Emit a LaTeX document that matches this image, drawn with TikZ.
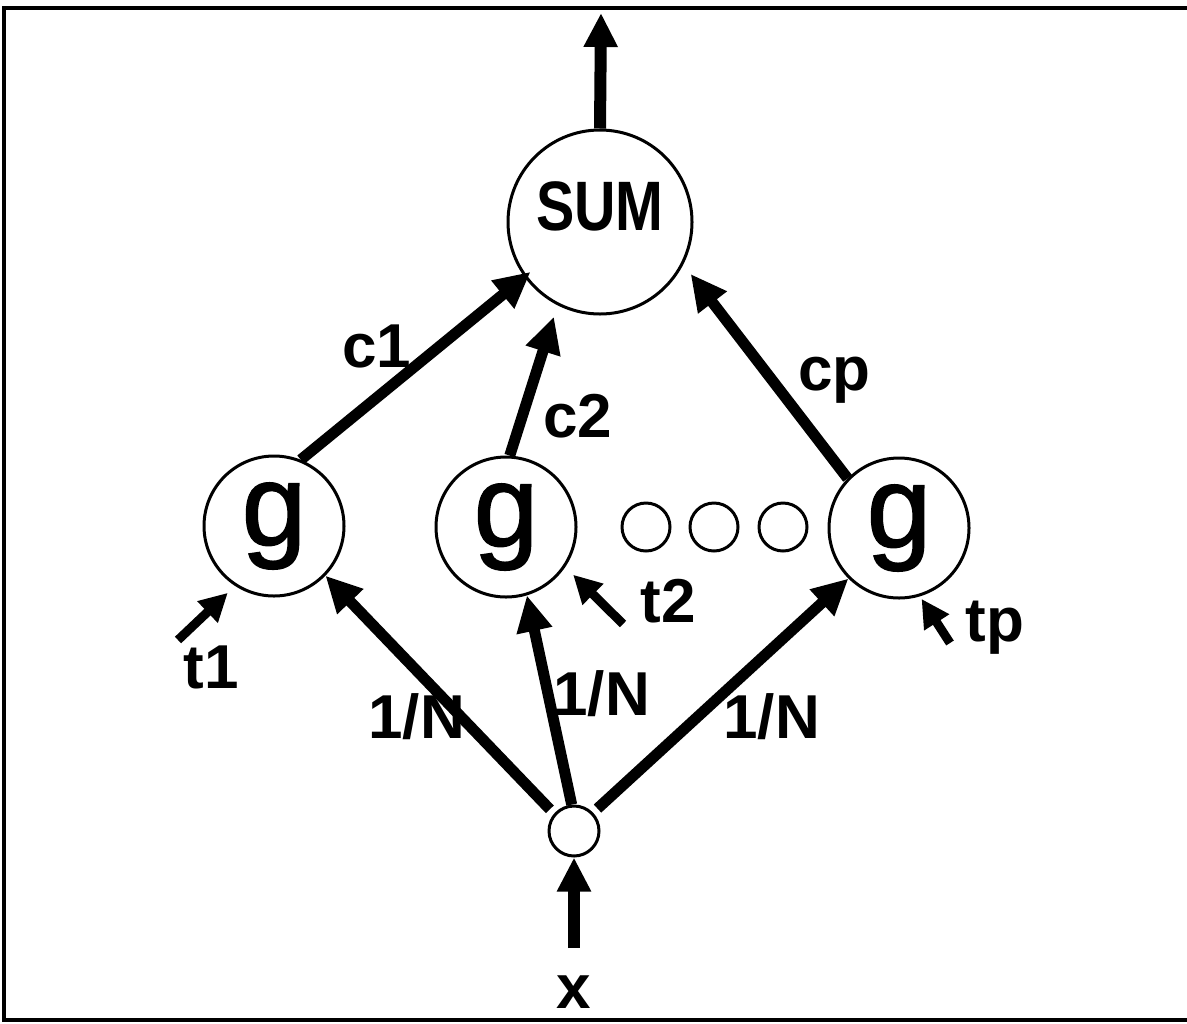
\documentclass[tikz,border=0pt]{standalone}
\usepackage{fontspec}
\usepackage{graphicx}
\setmainfont{Liberation Sans}
\newfontfamily\gfont{Liberation Sans}[FakeBold=1.5]
\usetikzlibrary{arrows.meta}
\begin{document}
\begin{tikzpicture}[x=0.5pt,y=-0.5pt,
  circ/.style={circle,draw,line width=1.5pt,inner sep=0pt},
  gnode/.style={circ,minimum size=70pt,font=\gfont\fontsize{58}{60}\selectfont},
  dotc/.style={circ,minimum size=24pt},
  lab/.style={font=\fontsize{31}{34}\selectfont\bfseries,inner sep=0pt},
  conn/.style={line width=5.5pt,-{Triangle[length=18pt,width=17pt]}},
  bigconn/.style={line width=6pt,-{Triangle[length=17pt,width=16pt]}},
  tconn/.style={line width=4.5pt,-{Triangle[length=14pt,width=14pt]}},
  frame/.style={line width=2pt}]
\useasboundingbox (0,0) rectangle (1187,1023);
% frame (open on the right)
\draw[frame] (1195,8) -- (4,8) -- (4,1020) -- (1195,1020);
% nodes
\node[circ,minimum size=92pt] (sum) at (600,222) {};
\node[lab,font=\fontsize{35}{38}\selectfont\bfseries,anchor=base] (sumlab) at (600,230) {\scalebox{0.82}[1]{SUM}};
\node[gnode] (g1) at (274,526) {g};
\node[gnode] (g2) at (506,527) {g};
\node[gnode] (g3) at (899,528) {g};
\node[dotc] (d1) at (646,527) {};
\node[dotc] (d2) at (714,527) {};
\node[dotc] (d3) at (783,527) {};
\node[circ,minimum size=25pt] (inp) at (574,831) {};
% coordinates for free ends
\coordinate (out) at (601,13);
\coordinate (xin) at (574,948);
\coordinate (t1s) at (178,640);
\coordinate (t2s) at (623,624);
\coordinate (tps) at (950,643);
% labels
\node[lab,anchor=base west] (lc1) at (342,367) {c1};
\node[lab,anchor=base west] (lc2) at (543,437) {c2};
\node[lab,anchor=base west] (lcp) at (798,390) {cp};
\node[lab,anchor=base west] (lt1) at (183,688) {t1};
\node[lab,anchor=base west] (lt2) at (640,622) {t2};
\node[lab,anchor=base west] (ltp) at (965,641) {tp};
\node[lab,anchor=base west] (ln1) at (368,738) {1/N};
\node[lab,anchor=base west] (ln2) at (553,715) {1/N};
\node[lab,anchor=base west] (ln3) at (723,738) {1/N};
\node[lab,anchor=base] (lx) at (574,1008) {x};
% connectors
\draw[bigconn] (sum.north) -- (out);
\draw[bigconn] (xin) -- (inp.south);
\draw[conn,shorten >=-4pt] (g1.68) -- (sum.216);
\draw[conn,shorten >=6pt] (g2.87) -- (sum.243);
\draw[conn,shorten >=6pt] (g3.136) -- (sum.333);
\draw[conn,shorten <=3pt] (inp.139) -- (g1.316);
\draw[conn] (inp.95) -- (g2.287);
\draw[conn,shorten <=3pt] (inp.44) -- (g3.225);
\draw[tconn,shorten >=5pt] (t1s) -- (g1.237);
\draw[tconn,shorten >=5.5pt] (t2s) -- (g2.326);
\draw[tconn,shorten >=1.5pt] (tps) -- (g3.287);
\end{tikzpicture}
\end{document}
